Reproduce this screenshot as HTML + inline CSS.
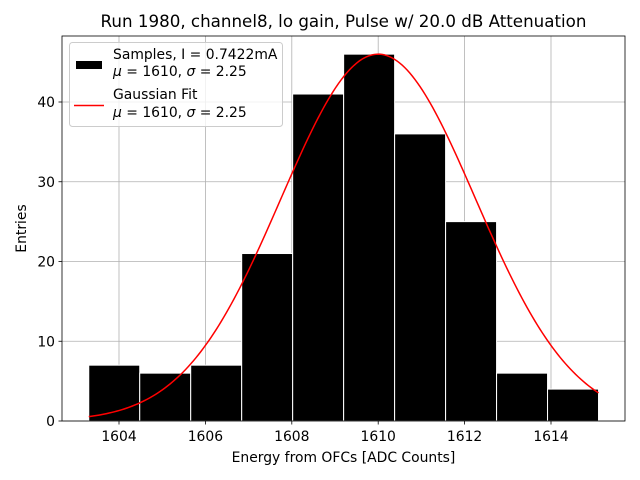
<!DOCTYPE html>
<html><head><meta charset="utf-8"><style>
body{margin:0;background:#fff;}
svg{display:block;font-family:"DejaVu Sans","Liberation Sans",sans-serif;}
</style></head><body>
<svg id="c" width="640" height="480"></svg>
<script>
const binEdges=[1603.3,1604.48,1605.66,1606.84,1608.02,1609.2,1610.38,1611.56,1612.74,1613.92,1615.1];
const counts=[7,6,7,21,41,46,36,25,6,4];
const xTicks=[1604,1606,1608,1610,1612,1614];
const yTicks=[0,10,20,30,40];
const fitMu=1610, fitSigma=2.25, fitAmp=46;
const L=62,R=625,T=36,B=421;
const x=v=>119+(v-1604)*(551-119)/10;
const y=v=>B-v*(B-102)/40;
const svg=document.getElementById('c');
const NS='http://www.w3.org/2000/svg';
function mk(t,a,p){const e=document.createElementNS(NS,t);for(const k in a)e.setAttribute(k,a[k]);(p||svg).appendChild(e);return e;}
xTicks.forEach(t=>{const g=mk('line',{x1:x(t),x2:x(t),y1:T,y2:B,stroke:'#b0b0b0','stroke-width':0.8});

});
yTicks.forEach(t=>{const g=mk('line',{x1:L,x2:R,y1:y(t),y2:y(t),stroke:'#b0b0b0','stroke-width':0.8});

});
counts.forEach((c,i)=>{const r=mk('rect',{x:x(binEdges[i]),y:y(c),width:x(binEdges[i+1])-x(binEdges[i]),height:y(0)-y(c),fill:'#000',stroke:'#fff','stroke-width':1});

});
let d='';for(let i=0;i<=200;i++){const v=binEdges[0]+(binEdges[10]-binEdges[0])*i/200;const f=fitAmp*Math.exp(-0.5*((v-fitMu)/fitSigma)**2);d+=(i?'L':'M')+x(v).toFixed(2)+','+y(f).toFixed(2);}
const p=mk('path',{d:d,fill:'none',stroke:'red','stroke-width':1.5});


const fr=mk('rect',{x:L,y:T,width:R-L,height:B-T,fill:'none',stroke:'#000','stroke-width':0.8});


xTicks.forEach(t=>{mk('line',{x1:x(t),x2:x(t),y1:B,y2:B+3.5,stroke:'#000','stroke-width':0.8});
const tx=mk('text',{x:x(t),y:B+20,'text-anchor':'middle','font-size':13.9});tx.textContent=t;

});
yTicks.forEach(t=>{mk('line',{x1:L-3.5,x2:L,y1:y(t),y2:y(t),stroke:'#000','stroke-width':0.8});
const tx=mk('text',{x:L-7,y:y(t)+5,'text-anchor':'end','font-size':13.9});tx.textContent=t;

});
</script>
<svg style="position:absolute;left:0;top:0" width="640" height="480">
<text x="343.5" y="27" text-anchor="middle" font-size="16.7">Run 1980, channel8, lo gain, Pulse w/ 20.0 dB Attenuation</text>
<text x="343.5" y="462" text-anchor="middle" font-size="13.9">Energy from OFCs [ADC Counts]</text>
<text x="26" y="228.5" text-anchor="middle" font-size="13.9" transform="rotate(-90 26 228.5)">Entries</text>
<g>
<rect x="69.5" y="42.5" width="213" height="84" rx="3" fill="#fff" fill-opacity="0.8" stroke="#ccc"/>
<rect x="76" y="61" width="26" height="8" fill="#000"/>
<text x="113" y="59" font-size="13.9">Samples, I = 0.7422mA</text>
<text x="113" y="76" font-size="13.9"><tspan font-style="italic">μ</tspan> = 1610, <tspan font-style="italic">σ</tspan> = 2.25</text>
<line x1="74" x2="104" y1="105.5" y2="105.5" stroke="red" stroke-width="1.5"/>
<text x="113" y="99" font-size="13.9">Gaussian Fit</text>
<text x="113" y="117" font-size="13.9"><tspan font-style="italic">μ</tspan> = 1610, <tspan font-style="italic">σ</tspan> = 2.25</text>
</g>
</svg>
</body></html>
